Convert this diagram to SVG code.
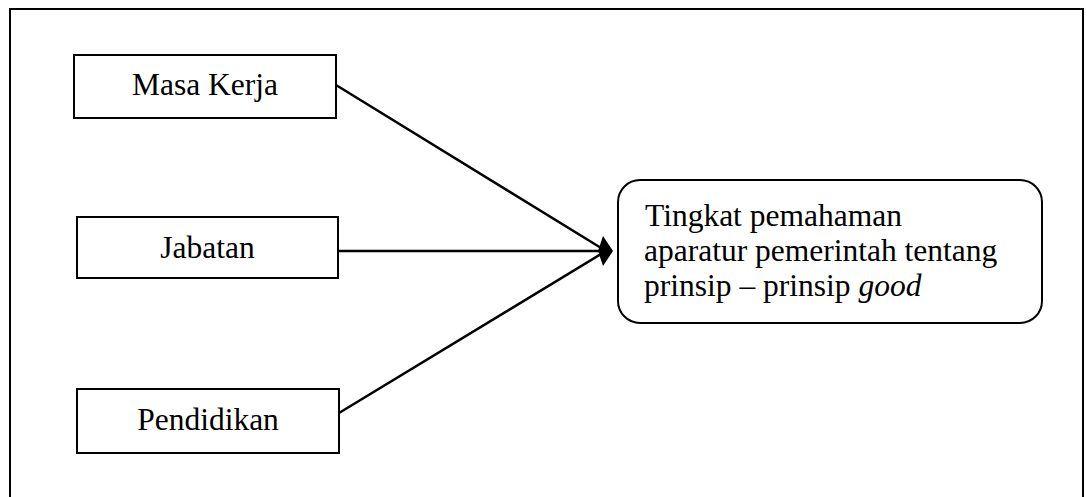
<svg xmlns="http://www.w3.org/2000/svg" width="1087" height="497" viewBox="0 0 1087 497">
<style>
.box{fill:#fff;stroke:#000;stroke-width:2}
.t{font-family:"Liberation Serif","Times New Roman",serif;font-size:31.5px;fill:#000}
.c{text-anchor:middle}
.ln{stroke:#000;stroke-width:2.5;fill:none}
</style>
<rect width="1087" height="497" fill="#fff"/>
<rect x="10" y="9" width="1073" height="500" fill="none" stroke="#000" stroke-width="2"/>
<g id="connectors">
<line class="ln" x1="336" y1="85" x2="606" y2="251"/>
<line class="ln" x1="338" y1="251" x2="606" y2="251"/>
<line class="ln" x1="339" y1="413" x2="606" y2="251"/>
<polygon points="613,251 603,236 598,251 603,266" fill="#000"/>
</g>
<g id="masa-kerja">
<rect class="box" x="74" y="55" width="262" height="63"/>
<text class="t c" x="205" y="95">Masa Kerja</text>
</g>
<g id="jabatan">
<rect class="box" x="77" y="217" width="261" height="61"/>
<text class="t c" x="207.5" y="257.5">Jabatan</text>
</g>
<g id="pendidikan">
<rect class="box" x="77" y="389" width="262" height="64"/>
<text class="t c" x="208" y="430">Pendidikan</text>
</g>
<g id="tingkat">
<rect class="box" x="618" y="180" width="424" height="143" rx="22" ry="22"/>
<text class="t" x="645" y="226">Tingkat pemahaman</text>
<text class="t" x="644" y="261">aparatur pemerintah tentang</text>
<text class="t" x="644" y="296">prinsip – prinsip <tspan font-style="italic">good</tspan></text>
</g>
</svg>
